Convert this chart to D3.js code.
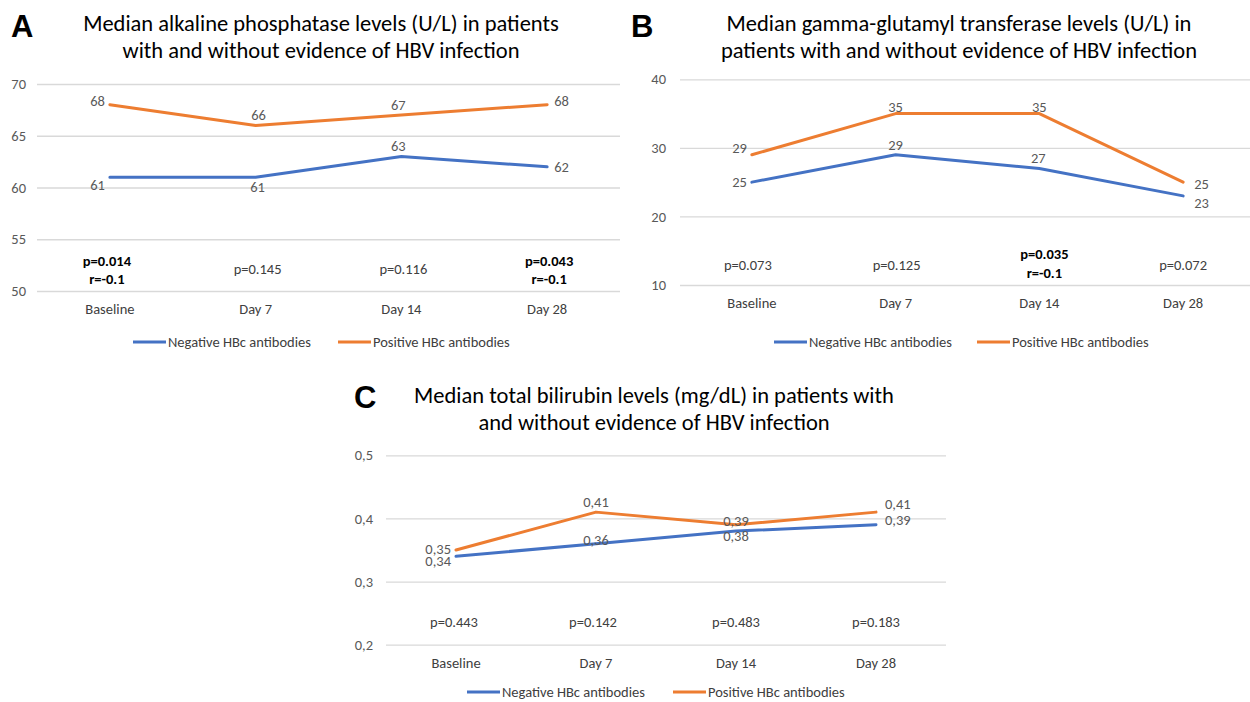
<!DOCTYPE html>
<html>
<head>
<meta charset="utf-8">
<script src="https://cdn.jsdelivr.net/npm/d3@7"></script>
<style>
  html, body { margin: 0; padding: 0; background: #ffffff; }
  svg { display: block; font-family: Carlito, Lato, "Open Sans", sans-serif; }
</style>
</head>
<body>
<svg id="chart" width="1250" height="702"></svg>
<script>
// ---- Data ----
const categories = ["Baseline", "Day 7", "Day 14", "Day 28"];
const seriesNames = ["Negative HBc antibodies", "Positive HBc antibodies"];

// A: alkaline phosphatase (U/L)
const alpNegative = [61, 61, 63, 62];
const alpPositive = [68, 66, 67, 68];
const alpTicks = [50, 55, 60, 65, 70];
const alpStats = [["p=0.014", "r=-0.1"], ["p=0.145"], ["p=0.116"], ["p=0.043", "r=-0.1"]];
const alpSignificant = [true, false, false, true];

// B: gamma-glutamyl transferase (U/L)
const ggtNegative = [25, 29, 27, 23];
const ggtPositive = [29, 35, 35, 25];
const ggtTicks = [10, 20, 30, 40];
const ggtStats = [["p=0.073"], ["p=0.125"], ["p=0.035", "r=-0.1"], ["p=0.072"]];
const ggtSignificant = [false, false, true, false];

// C: total bilirubin (mg/dL)
const bilNegative = [0.34, 0.36, 0.38, 0.39];
const bilPositive = [0.35, 0.41, 0.39, 0.41];
const bilTicks = [0.2, 0.3, 0.4, 0.5];
const bilStats = [["p=0.443"], ["p=0.142"], ["p=0.483"], ["p=0.183"]];
const bilSignificant = [false, false, false, false];

// ---- Styling ----
const COLORS = ["#4472C4", "#ED7D31"];
const SMALL = 14.5;
const TITLE = 22.5;
const commaLocale = d3.formatLocale({ decimal: ",", thousands: ".", grouping: [3], currency: ["", ""] });

// Label placement per point: [side, dx, dy]  (side: L/R/T/B)
const panels = [
  {
    letter: "A", letterX: 11, letterY: 37,
    title: ["Median alkaline phosphatase levels (U/L) in patients", "with and without evidence of HBV infection"],
    titleX: 321, titleY: [31, 58],
    x0: 37, x1: 620, yTop: 84, yBottom: 291,
    domain: [50, 70], ticks: alpTicks, tickFmt: d3.format("d"), labelFmt: d3.format("d"), tickPad: 11,
    series: [alpNegative, alpPositive],
    place: [
      [["L", 0, 8], ["B", 2, 0], ["T", -3, 0], ["R", 2, 0]],
      [["L", 0, -4], ["T", 3, 0], ["T", -3, 0], ["R", 2, -4]]
    ],
    stats: alpStats, significant: alpSignificant, statY: [266, 284], statSingleY: 274, statDx: [-3, 2, 2, 2],
    catY: 314,
    legendY: 342, legendX: [133, 338]
  },
  {
    letter: "B", letterX: 631, letterY: 37,
    title: ["Median gamma-glutamyl transferase levels (U/L) in", "patients with and without evidence of HBV infection"],
    titleX: 959, titleY: [31, 58],
    x0: 680, x1: 1255, yTop: 79.3, yBottom: 285,
    domain: [10, 40], ticks: ggtTicks, tickFmt: d3.format("d"), labelFmt: d3.format("d"), tickPad: 14,
    series: [ggtNegative, ggtPositive],
    place: [
      [["L", 0, 0], ["T", 0, 0], ["T", -1, 0], ["R", 6, 7]],
      [["L", 0, -7], ["T", 0, 3], ["T", 0, 3], ["R", 6, 2]]
    ],
    stats: ggtStats, significant: ggtSignificant, statY: [259, 278], statSingleY: 270, statDx: [-4, 1, 5, 0],
    catY: 308,
    legendY: 342, legendX: [774, 977]
  },
  {
    letter: "C", letterX: 354, letterY: 408,
    title: ["Median total bilirubin levels (mg/dL) in patients with", "and without evidence of HBV infection"],
    titleX: 654, titleY: [403, 430],
    x0: 386, x1: 946, yTop: 455.3, yBottom: 644.7,
    domain: [0.2, 0.5], ticks: bilTicks, tickFmt: commaLocale.format(".1f"), labelFmt: commaLocale.format(".2f"), tickPad: 13,
    series: [bilNegative, bilPositive],
    place: [
      [["L", 0, 5], ["T", 0, 6], ["B", 0, -5], ["R", 4, -5]],
      [["L", 0, -1], ["T", 0, 0], ["T", 0, 6], ["R", 4, -8]]
    ],
    stats: bilStats, significant: bilSignificant, statY: [627, 645], statSingleY: 627, statDx: [-2, -3, 0, 0],
    catY: 668,
    legendY: 692, legendX: [467, 673]
  }
];

const svg = d3.select("#chart");

panels.forEach(p => {
  const g = svg.append("g");

  const x = d3.scalePoint().domain(categories).range([p.x0, p.x1]).padding(0.5);
  const y = d3.scaleLinear().domain(p.domain).range([p.yBottom, p.yTop]);

  // Panel letter
  g.append("text")
    .attr("x", p.letterX).attr("y", p.letterY)
    .attr("font-family", "'Liberation Sans', Arial, sans-serif")
    .attr("font-weight", "bold").attr("font-size", 31).attr("fill", "#000")
    .text(p.letter);

  // Title
  p.title.forEach((line, i) => {
    g.append("text")
      .attr("x", p.titleX).attr("y", p.titleY[i])
      .attr("text-anchor", "middle").attr("font-size", TITLE).attr("fill", "#000")
      .text(line);
  });

  // Y axis with gridlines
  const yAxis = d3.axisLeft(y)
    .tickValues(p.ticks)
    .tickFormat(p.tickFmt)
    .tickSize(-(p.x1 - p.x0))
    .tickPadding(p.tickPad);
  const ya = g.append("g").attr("transform", `translate(${p.x0},0)`).call(yAxis);
  ya.select(".domain").remove();
  ya.selectAll(".tick line").attr("stroke", "#d9d9d9").attr("stroke-width", 1.3);
  ya.selectAll(".tick text")
    .attr("font-family", "Carlito, Lato, sans-serif")
    .attr("font-size", SMALL).attr("fill", "#595959");

  // Category labels
  g.selectAll(".cat").data(categories).enter().append("text")
    .attr("x", d => x(d)).attr("y", p.catY)
    .attr("text-anchor", "middle").attr("font-size", SMALL).attr("fill", "#404040")
    .text(d => d);

  // Statistical annotations
  p.stats.forEach((lines, i) => {
    const bold = p.significant[i];
    lines.forEach((t, j) => {
      g.append("text")
        .attr("x", x(categories[i]) + p.statDx[i])
        .attr("y", lines.length > 1 ? p.statY[j] : p.statSingleY)
        .attr("text-anchor", "middle").attr("font-size", SMALL)
        .attr("font-weight", bold ? "bold" : "normal")
        .attr("fill", bold ? "#000" : "#404040")
        .text(t);
    });
  });

  // Lines
  const line = d3.line().x((d, i) => x(categories[i])).y(d => y(d));
  p.series.forEach((vals, s) => {
    g.append("path").datum(vals)
      .attr("d", line)
      .attr("fill", "none").attr("stroke", COLORS[s])
      .attr("stroke-width", 3).attr("stroke-linejoin", "round").attr("stroke-linecap", "round");
  });

  // Data labels
  p.series.forEach((vals, s) => {
    vals.forEach((v, i) => {
      const [side, dx, dy] = p.place[s][i];
      const px = x(categories[i]), py = y(v);
      let tx = px, ty = py, anchor = "middle";
      if (side === "L") { tx = px - 5; ty = py + 5; anchor = "end"; }
      if (side === "R") { tx = px + 5; ty = py + 5; anchor = "start"; }
      if (side === "T") { ty = py - 5; }
      if (side === "B") { ty = py + 15; }
      g.append("text")
        .attr("x", tx + dx).attr("y", ty + dy)
        .attr("text-anchor", anchor).attr("font-size", SMALL).attr("fill", "#595959")
        .text(p.labelFmt(v));
    });
  });

  // Legend
  seriesNames.forEach((name, s) => {
    const lx = p.legendX[s];
    g.append("line")
      .attr("x1", lx).attr("x2", lx + 33)
      .attr("y1", p.legendY).attr("y2", p.legendY)
      .attr("stroke", COLORS[s]).attr("stroke-width", 3);
    g.append("text")
      .attr("x", lx + 35).attr("y", p.legendY + 5)
      .attr("font-size", SMALL).attr("fill", "#404040")
      .text(name);
  });
});
</script>
</body>
</html>
